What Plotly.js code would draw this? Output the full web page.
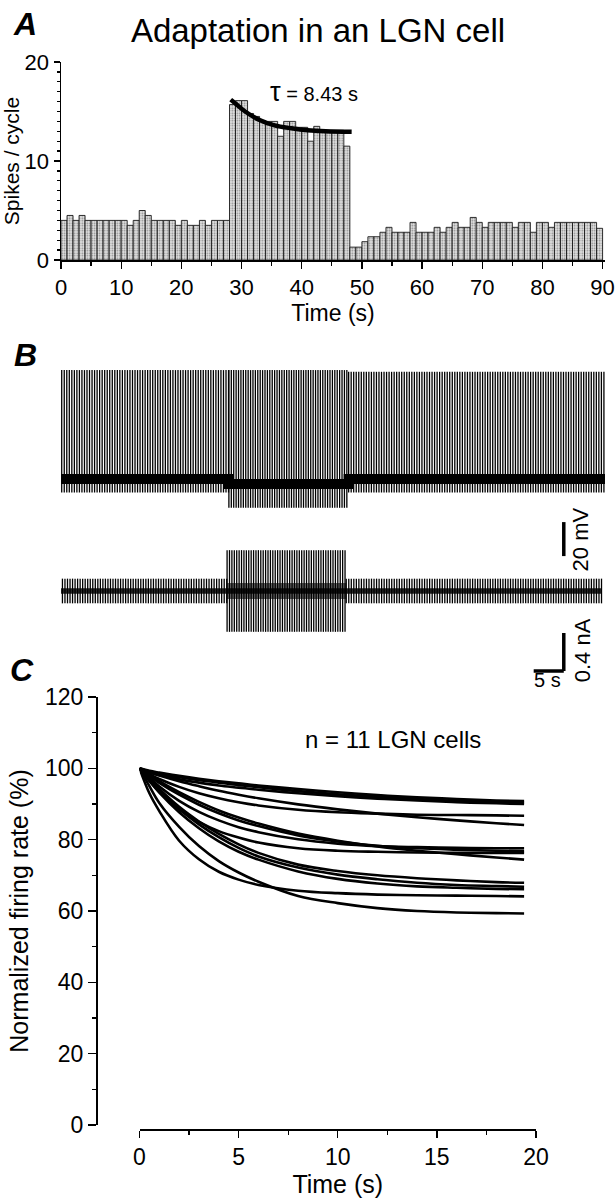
<!DOCTYPE html>
<html><head><meta charset="utf-8">
<script src="https://cdn.plot.ly/plotly-3.0.1.min.js"></script>
<style>html,body{margin:0;padding:0;background:#fff}#chart{width:616px;height:1199px}</style>
</head><body><div id="chart"></div>
<script>
// ---------- Panel A data: spikes per cycle, one bar per 1-s bin ----------
const rateBefore = [4,4.5,4,4.5,4,4,4,4,4,4,4,3.5,4,5,4.5,4,4,4,4,3.5,4,3.5,3.5,4,3.5,4,4,4];
const rateDuring = [15.7,16.1,16.1,14.8,14.5,14.1,14.0,14.0,12.5,14.0,14.0,13.4,13.4,12.0,13.5,13.1,13.1,13.1,13.1,11.5];
const rateAfter  = [1.3,1.3,1.85,2.35,2.35,2.8,3.3,2.8,2.8,2.8,3.8,2.8,2.8,2.8,3.3,2.8,3.3,3.8,3.3,3.3,4.3,3.8,3.3,3.8,3.8,3.8,3.8,3.3,3.8,3.8,2.8,3.8,3.8,3.3,3.8,3.8,3.8,3.8,3.8,3.8,3.8,3.2];
const spikesPerCycle = rateBefore.concat(rateDuring, rateAfter);
const binCenters = spikesPerCycle.map((_, i) => i + 0.5);
const xTicksA = [0,10,20,30,40,50,60,70,80,90];
const yTicksA = [0,10,20];
// exponential fit drawn in the figure (tau = 8.43 s)
const fitTime = [28.2, 29, 30.6, 32.8, 35.5, 38.3, 41, 44, 48.3];
const fitRate = [16.2, 15.8, 15.0, 14.2, 13.6, 13.3, 13.1, 13.0, 12.95];

// ---------- Panel B data: recorded traces (segments before / during / after) ----------
const vmStart   = [-0.3, 27.9, 47.8];
const vmEnd     = [27.9, 47.8, 90.5];
const vmSpacing = [0.42, 0.40, 0.42];   // s between spike lines
const vmPeak    = [17, 17, 16];         // mV
const vmTrough  = [-55, -64, -55];      // mV
const vmBase    = [-47, -50, -47];      // mV
const iStart    = [-0.6, 27.6, 47.4];
const iEnd      = [27.6, 47.4, 89.9];
const iSpacing  = [0.42, 0.40, 0.42];
const iAmp      = [0.13, 0.43, 0.13];   // nA

// ---------- Panel C data: normalized firing rate (%) ----------
const cTime = [0, 0.5, 1, 2, 3, 4, 5, 6, 8, 10, 12, 14, 16, 18, 19.4];
const cell1  = [100, 99.3, 98.8, 97.9, 97.1, 96.4, 95.8, 95.2, 94.2, 93.3, 92.5, 91.9, 91.4, 91.0, 90.8];
const cell2  = [100, 99.1, 98.5, 97.5, 96.7, 96.0, 95.3, 94.7, 93.6, 92.7, 92.0, 91.4, 90.9, 90.6, 90.4];
const cell3  = [100, 98.9, 98.1, 96.9, 96.0, 95.2, 94.6, 94.0, 93.0, 92.2, 91.5, 91.0, 90.5, 90.2, 90.0];
const cell4  = [100, 98.4, 97.0, 94.8, 93.0, 91.6, 90.5, 89.6, 88.4, 87.7, 87.3, 87.0, 86.9, 86.8, 86.7];
const cell5  = [100, 98.9, 98.0, 96.4, 95.0, 93.7, 92.6, 91.6, 89.9, 88.5, 87.3, 86.3, 85.4, 84.6, 84.1];
const cell6  = [100, 97.4, 94.9, 90.9, 87.8, 85.4, 83.5, 82.1, 80.1, 78.9, 78.2, 77.9, 77.7, 77.6, 77.6];
const cell7  = [100, 97.9, 95.9, 92.6, 89.8, 87.4, 85.4, 83.8, 81.2, 79.5, 78.3, 77.6, 77.2, 76.9, 76.8];
const cell8  = [100, 96.5, 93.4, 88.5, 85.0, 82.4, 80.6, 79.2, 77.6, 76.9, 76.6, 76.4, 76.3, 76.3, 76.3];
const cell9  = [100, 98.2, 96.4, 93.3, 90.6, 88.2, 86.2, 84.5, 81.7, 79.7, 78.1, 76.9, 75.9, 75.0, 74.4];
const cell10 = [100, 97.0, 94.2, 89.2, 85.1, 81.6, 78.7, 76.3, 73.0, 71.2, 70.0, 69.2, 68.6, 68.1, 67.9];
const cell11 = [100, 96.8, 93.8, 88.6, 84.3, 80.7, 77.7, 75.3, 72.2, 70.2, 68.9, 67.9, 67.3, 67.0, 66.8];
const cell12 = [100, 96.5, 93.2, 87.7, 83.2, 79.5, 76.6, 74.4, 71.1, 69.0, 67.7, 66.9, 66.5, 66.2, 66.1];
const cell13 = [100, 93.0, 88.0, 79.7, 74.5, 71.0, 68.8, 67.3, 65.7, 65.0, 64.6, 64.4, 64.3, 64.2, 64.1];
const cell14 = [100, 95.0, 90.3, 83.6, 78.2, 74.0, 70.8, 68.2, 64.2, 62.2, 60.8, 60.0, 59.6, 59.4, 59.3];
const cells = [cell1,cell2,cell3,cell4,cell5,cell6,cell7,cell8,cell9,cell10,cell11,cell12,cell13,cell14];
const xTicksC = [0,5,10,15,20];
const yTicksC = [0,20,40,60,80,100,120];

// ---------- geometry helpers (figure pixels -> paper fractions) ----------
const W = 616, H = 1199;
const px = v => v / W;
const py = v => 1 - v / H;
const FONT = 'Liberation Sans, Arial, Helvetica, sans-serif';

function comb(starts, ends, spacing, lows, highs) {
  const xs = [], ys = [];
  for (let s = 0; s < starts.length; s++) {
    for (let t = starts[s]; t < ends[s]; t += spacing[s]) {
      xs.push(t, t, null);
      ys.push(lows[s], highs[s], null);
    }
  }
  return {xs, ys};
}
const vmComb = comb(vmStart, vmEnd, vmSpacing, vmTrough, vmPeak);
const iComb = comb(iStart, iEnd, iSpacing, iAmp.map(a => -a), iAmp);
const vmBandX = [], vmBandY = [];
vmStart.forEach((s, i) => { vmBandX.push(s, vmEnd[i]); vmBandY.push(vmBase[i], vmBase[i]); });
const iBandX = [iStart[0], iEnd[2]], iBandY = [0, 0];
const iStimX = [iStart[1], iEnd[1]], iStimY = [0, 0];

const traces = [
  {type:'bar', x: binCenters, y: spikesPerCycle, width: 1, xaxis:'x', yaxis:'y',
   marker:{color:'#d4d4d4', line:{color:'#1a1a1a', width:0.9},
           pattern:{shape:'.', fgcolor:'#808080', bgcolor:'#e2e2e2', size:2.5, solidity:0.3}},
   hoverinfo:'skip', showlegend:false},
  {type:'scatter', mode:'lines', x: fitTime, y: fitRate, xaxis:'x', yaxis:'y',
   line:{color:'#000', width:4.5, shape:'spline'}, showlegend:false},
  {type:'scatter', mode:'lines', x: vmComb.xs, y: vmComb.ys, xaxis:'x2', yaxis:'y2',
   line:{color:'#000', width:1.3}, connectgaps:false, showlegend:false},
  {type:'scatter', mode:'lines', x: vmBandX, y: vmBandY, xaxis:'x2', yaxis:'y2',
   line:{color:'#000', width:10, shape:'hv'}, showlegend:false},
  {type:'scatter', mode:'lines', x: iComb.xs, y: iComb.ys, xaxis:'x2', yaxis:'y3',
   line:{color:'#000', width:1.3}, connectgaps:false, showlegend:false},
  {type:'scatter', mode:'lines', x: iBandX, y: iBandY, xaxis:'x2', yaxis:'y3',
   line:{color:'rgba(0,0,0,0.85)', width:5.5}, showlegend:false},
  {type:'scatter', mode:'lines', x: iStimX, y: iStimY, xaxis:'x2', yaxis:'y3',
   line:{color:'rgba(0,0,0,0.6)', width:16}, showlegend:false}
];
cells.forEach(c => traces.push({type:'scatter', mode:'lines', x: cTime, y: c, xaxis:'x3', yaxis:'y4',
  line:{color:'#000', width:2.6, shape:'spline'}, showlegend:false}));

const axisCommon = {showgrid:false, zeroline:false, showline:true, linecolor:'#000', linewidth:1.5,
  ticks:'outside', tickcolor:'#000', tickwidth:1.3, tickfont:{family:FONT, size:22, color:'#000'}};

const layout = {
  width: W, height: H, margin:{l:0, r:0, t:0, b:0},
  paper_bgcolor:'#fff', plot_bgcolor:'rgba(0,0,0,0)', bargap:0, showlegend:false,
  font:{family:FONT, color:'#000'},
  title:{text:'Adaptation in an LGN cell', x:px(318), y:py(30), xanchor:'center', yanchor:'middle',
         font:{family:FONT, size:33, color:'#000'}},
  xaxis: Object.assign({}, axisCommon, {domain:[px(61), px(605)], range:[0, 90.4], anchor:'y',
    tickvals:xTicksA, ticklen:7, minor:{dtick:5, tick0:0, ticklen:4, ticks:'outside', tickcolor:'#000', showgrid:false},
    title:{text:'Time (s)', font:{family:FONT, size:23}, standoff:1}}),
  yaxis: Object.assign({}, axisCommon, {domain:[py(260), py(62)], range:[0, 20], anchor:'x',
    tickvals:yTicksA, ticklen:6, minor:{dtick:1, tick0:0, ticklen:3, ticks:'outside', tickcolor:'#000', showgrid:false},
    title:{text:'Spikes / cycle', font:{family:FONT, size:21}, standoff:6}}),
  xaxis2:{domain:[px(61), px(605)], range:[0, 90.4], anchor:'y2', visible:false},
  yaxis2:{domain:[py(560), py(365)], range:[-94.7, 20], anchor:'x2', visible:false},
  yaxis3:{domain:[py(700), py(545)], range:[-1.147, 0.484], anchor:'x2', visible:false},
  xaxis3: Object.assign({}, axisCommon, {domain:[px(139.5), px(536)], range:[0, 20], anchor:'free', position:py(1129),
    tickvals:xTicksC, ticklen:7, tickfont:{family:FONT, size:23, color:'#000'},
    minor:{dtick:2.5, tick0:0, ticklen:4, ticks:'outside', tickcolor:'#000', showgrid:false},
    title:{text:'Time (s)', font:{family:FONT, size:25}, standoff:0}}),
  yaxis4: Object.assign({}, axisCommon, {domain:[py(1125), py(697)], range:[0, 120], anchor:'free', position:px(96),
    tickvals:yTicksC, ticklen:8, tickfont:{family:FONT, size:23, color:'#000'},
    minor:{dtick:10, tick0:0, ticklen:4, ticks:'outside', tickcolor:'#000', showgrid:false},
    title:{text:'Normalized firing rate (%)', font:{family:FONT, size:25}, standoff:8}}),
  shapes:[
    // 20 mV scale bar
    {type:'line', xref:'x2', yref:'y2', x0:83.55, x1:83.55, y0:-72.4, y1:-92.4, line:{color:'#000', width:3.5}},
    // 0.4 nA / 5 s scale bar
    {type:'line', xref:'x2', yref:'y3', x0:83.55, x1:83.55, y0:-0.442, y1:-0.842, line:{color:'#000', width:3.5}},
    {type:'line', xref:'x2', yref:'y3', x0:78.55, x1:83.55, y0:-0.842, y1:-0.842, line:{color:'#000', width:3.5}}
  ],
  annotations:[
    {text:'A', xref:'paper', yref:'paper', x:px(25), y:py(24), showarrow:false, xanchor:'center', yanchor:'middle',
     font:{family:FONT, size:32, weight:'bold', style:'italic'}},
    {text:'B', xref:'paper', yref:'paper', x:px(25), y:py(355), showarrow:false, xanchor:'center', yanchor:'middle',
     font:{family:FONT, size:32, weight:'bold', style:'italic'}},
    {text:'C', xref:'paper', yref:'paper', x:px(22), y:py(670), showarrow:false, xanchor:'center', yanchor:'middle',
     font:{family:FONT, size:32, weight:'bold', style:'italic'}},
    {text:'<span style="font-size:27px">τ</span> = 8.43 s', xref:'x', yref:'y', x:42, y:17.0, showarrow:false,
     xanchor:'center', yanchor:'middle', font:{family:'Liberation Sans Narrow, Liberation Sans, Arial', size:20}},
    {text:'20 mV', xref:'x2', yref:'y2', x:86.3, y:-82.4, showarrow:false, textangle:-90,
     xanchor:'center', yanchor:'middle', font:{family:FONT, size:22}},
    {text:'0.4 nA', xref:'x2', yref:'y3', x:86.8, y:-0.62, showarrow:false, textangle:-90,
     xanchor:'center', yanchor:'middle', font:{family:FONT, size:22}},
    {text:'5 s', xref:'x2', yref:'y3', x:80.9, y:-0.94, showarrow:false,
     xanchor:'center', yanchor:'middle', font:{family:FONT, size:20}},
    {text:'n = 11 LGN cells', xref:'x3', yref:'y4', x:12.8, y:108, showarrow:false,
     xanchor:'center', yanchor:'middle', font:{family:FONT, size:24}}
  ]
};

Plotly.newPlot('chart', traces, layout, {staticPlot:true, displayModeBar:false});
</script>
</body></html>
